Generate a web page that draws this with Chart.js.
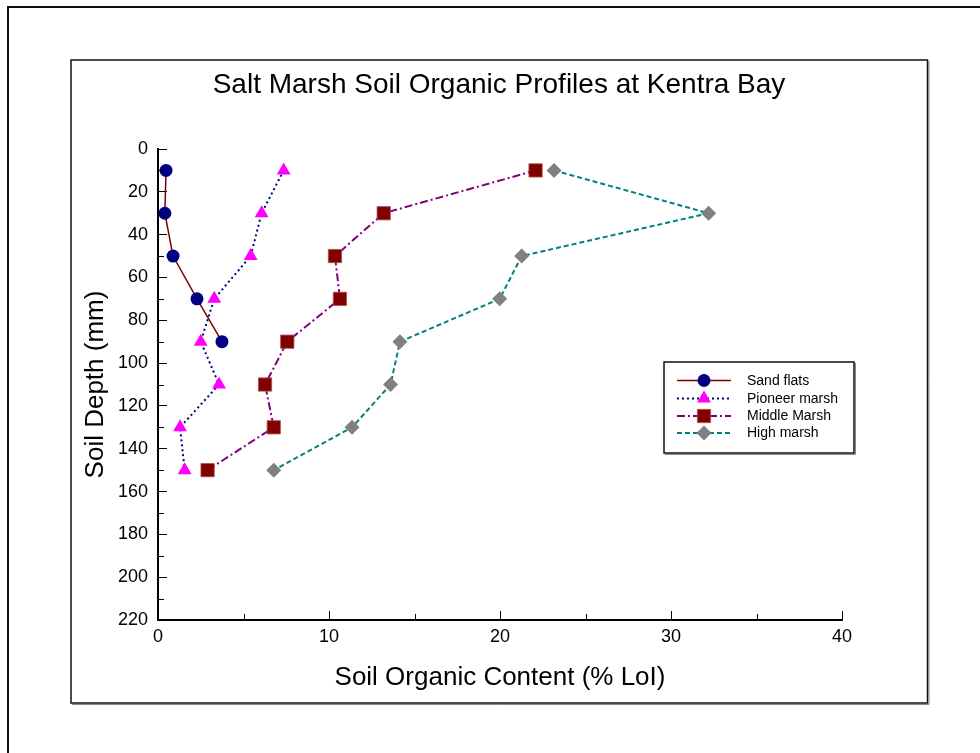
<!DOCTYPE html>
<html>
<head>
<meta charset="utf-8">
<title>Salt Marsh Soil Organic Profiles at Kentra Bay</title>
<script src="https://cdn.jsdelivr.net/npm/chart.js@4/dist/chart.umd.min.js"></script>
<style>
  html, body { margin: 0; padding: 0; background: #fff; }
  #wrap { width: 980px; height: 753px; }
</style>
</head>
<body>
<div id="wrap"><canvas id="chart" width="980" height="753"></canvas></div>
<script>
// Sampling depths (mm) and loss-on-ignition values (%) per site
const depths = [10, 30, 50, 70, 90, 110, 130, 150];
const sandFlats = [0.47, 0.40, 0.88, 2.28, 3.74];
const pioneerMarsh = [7.35, 6.06, 5.42, 3.29, 2.50, 3.57, 1.29, 1.56];
const middleMarsh = [22.08, 13.20, 10.35, 10.64, 7.56, 6.26, 6.77, 2.90];
const highMarsh = [23.16, 32.20, 21.27, 19.98, 14.15, 13.60, 11.35, 6.77];

const seriesNames = ['Sand flats', 'Pioneer marsh', 'Middle Marsh', 'High marsh'];
const depthTicksMajor = [0, 20, 40, 60, 80, 100, 120, 140, 160, 180, 200, 220];
const depthTicksMinor = [10, 30, 50, 70, 90, 110, 130, 150, 170, 190, 210];
const contentTicksMinor = [5, 15, 25, 35];

const FONT = "'Liberation Sans', Arial, Helvetica, sans-serif";

function toPoints(values) {
  return values.map((v, i) => ({ x: v, y: depths[i] }));
}

const datasets = [
  {
    label: seriesNames[0],
    data: toPoints(sandFlats),
    borderColor: '#800000',
    borderWidth: 1.5,
    pointStyle: 'circle',
    pointRadius: 6.5,
    pointBackgroundColor: '#000080',
    pointBorderColor: '#000080',
    pointBorderWidth: 0
  },
  {
    label: seriesNames[1],
    data: toPoints(pioneerMarsh),
    borderColor: '#000080',
    borderWidth: 2,
    borderDash: [2, 3],
    pointStyle: 'triangle',
    pointRadius: 8,
    pointBackgroundColor: '#ff00ff',
    pointBorderColor: '#ff00ff',
    pointBorderWidth: 0
  },
  {
    label: seriesNames[2],
    data: toPoints(middleMarsh),
    borderColor: '#800080',
    borderWidth: 2,
    borderDash: [8, 3, 2, 3],
    pointStyle: 'rect',
    pointRadius: 9.4,
    pointBackgroundColor: '#800000',
    pointBorderColor: '#b05050',
    pointBorderWidth: 0.8
  },
  {
    label: seriesNames[3],
    data: toPoints(highMarsh),
    borderColor: '#008080',
    borderWidth: 2,
    borderDash: [5, 3],
    pointStyle: 'rectRot',
    pointRadius: 7.5,
    pointBackgroundColor: '#808080',
    pointBorderColor: '#808080',
    pointBorderWidth: 0
  }
];

// Page frame, panel frame and white background
const framePlugin = {
  id: 'frames',
  beforeDraw(chart) {
    const ctx = chart.ctx;
    ctx.save();
    ctx.fillStyle = '#fff';
    ctx.fillRect(0, 0, chart.width, chart.height);
    // outer page frame (open to the right and bottom)
    ctx.strokeStyle = '#111';
    ctx.lineWidth = 2;
    ctx.beginPath();
    ctx.moveTo(8, chart.height + 5);
    ctx.lineTo(8, 7);
    ctx.lineTo(chart.width + 5, 7);
    ctx.stroke();
    // inner panel with a light shadow
    ctx.strokeStyle = '#888';
    ctx.lineWidth = 1;
    ctx.beginPath();
    ctx.moveTo(929, 61);
    ctx.lineTo(929, 704.5);
    ctx.lineTo(72, 704.5);
    ctx.stroke();
    ctx.strokeStyle = '#111';
    ctx.lineWidth = 1.5;
    ctx.strokeRect(71, 60, 856.5, 643);
    ctx.restore();
  }
};

// Short inward minor ticks between the labelled ones
const minorTickPlugin = {
  id: 'minorTicks',
  afterDraw(chart) {
    const ctx = chart.ctx;
    const xs = chart.scales.x, ys = chart.scales.y;
    ctx.save();
    ctx.strokeStyle = '#000';
    ctx.lineWidth = 1;
    ctx.beginPath();
    depthTicksMinor.forEach(v => {
      const py = Math.round(ys.getPixelForValue(v)) + 0.5;
      ctx.moveTo(chart.chartArea.left, py);
      ctx.lineTo(chart.chartArea.left + 6, py);
    });
    contentTicksMinor.forEach(v => {
      const px = Math.round(xs.getPixelForValue(v)) + 0.5;
      ctx.moveTo(px, chart.chartArea.bottom);
      ctx.lineTo(px, chart.chartArea.bottom - 6);
    });
    ctx.stroke();
    ctx.restore();
  }
};

// Boxed legend with line + marker samples
const boxLegendPlugin = {
  id: 'boxLegend',
  afterDraw(chart) {
    const ctx = chart.ctx;
    const box = { x: 664, y: 362, w: 190, h: 91 };
    const rowY = [380.5, 398.5, 416, 433];
    ctx.save();
    ctx.fillStyle = '#fff';
    ctx.fillRect(box.x, box.y, box.w, box.h);
    ctx.strokeStyle = '#888';
    ctx.lineWidth = 1;
    ctx.beginPath();
    ctx.moveTo(box.x + box.w + 1.5, box.y + 1);
    ctx.lineTo(box.x + box.w + 1.5, box.y + box.h + 1.5);
    ctx.lineTo(box.x + 1, box.y + box.h + 1.5);
    ctx.stroke();
    ctx.strokeStyle = '#111';
    ctx.lineWidth = 1.5;
    ctx.strokeRect(box.x, box.y, box.w, box.h);

    chart.data.datasets.forEach((ds, i) => {
      const y = rowY[i];
      ctx.save();
      ctx.strokeStyle = ds.borderColor;
      ctx.lineWidth = ds.borderWidth;
      ctx.setLineDash(ds.borderDash || []);
      ctx.beginPath();
      ctx.moveTo(677, y);
      ctx.lineTo(731, y);
      ctx.stroke();
      ctx.restore();
      ctx.save();
      ctx.fillStyle = ds.pointBackgroundColor;
      ctx.strokeStyle = ds.pointBorderColor;
      ctx.lineWidth = ds.pointBorderWidth;
      Chart.helpers.drawPoint(ctx, {
        pointStyle: ds.pointStyle,
        radius: ds.pointRadius,
        rotation: 0,
        borderWidth: ds.pointBorderWidth
      }, 704, y);
      ctx.restore();
      ctx.fillStyle = '#000';
      ctx.font = '14px ' + FONT;
      ctx.textAlign = 'left';
      ctx.textBaseline = 'middle';
      ctx.fillText(ds.label, 747, y + 0.5);
    });
    ctx.restore();
  }
};

function flatPadding(scale) {
  scale.paddingLeft = 0; scale.paddingRight = 0;
  scale.paddingTop = 0; scale.paddingBottom = 0;
}

const chart = new Chart(document.getElementById('chart'), {
  type: 'scatter',
  data: { datasets },
  options: {
    responsive: false,
    animation: false,
    showLine: true,
    layout: { padding: { top: 0, left: 18, right: 0, bottom: 0 } },
    elements: { line: { tension: 0, fill: false } },
    plugins: {
      legend: { display: false },
      tooltip: { enabled: false },
      title: {
        display: true,
        text: 'Salt Marsh Soil Organic Profiles at Kentra Bay',
        color: '#000',
        font: { family: FONT, size: 28, weight: 'normal' },
        padding: { top: 68.2, bottom: 47.2 }
      }
    },
    scales: {
      x: {
        type: 'linear',
        position: 'bottom',
        min: 0,
        max: 40,
        ticks: {
          stepSize: 10,
          color: '#000',
          font: { family: FONT, size: 18 },
          padding: 15,
          maxRotation: 0
        },
        grid: {
          drawOnChartArea: false,
          drawTicks: true,
          tickLength: -9,
          tickColor: '#000',
          tickWidth: 1
        },
        border: { display: true, color: '#000', width: 2 },
        title: {
          display: true,
          text: 'Soil Organic Content (% LoI)',
          color: '#000',
          font: { family: FONT, size: 26, weight: 'normal' },
          padding: { top: 0, bottom: 59.4 }
        },
        afterFit(scale) {
          scale.height = 133;
          flatPadding(scale);
        }
      },
      y: {
        type: 'linear',
        position: 'left',
        reverse: true,
        min: 0,
        max: 220,
        afterBuildTicks(scale) {
          scale.ticks = depthTicksMajor.map(v => ({ value: v }));
        },
        ticks: {
          color: '#000',
          font: { family: FONT, size: 18 },
          padding: 19
        },
        grid: {
          drawOnChartArea: false,
          drawTicks: true,
          tickLength: -9,
          tickColor: '#000',
          tickWidth: 1
        },
        border: { display: true, color: '#000', width: 2 },
        title: {
          display: true,
          text: 'Soil Depth (mm)',
          color: '#000',
          font: { family: FONT, size: 26, weight: 'normal' },
          padding: { top: 62.4, bottom: 0 }
        },
        afterFit(scale) {
          scale.width = 140;
          flatPadding(scale);
        }
      },
      // empty right-hand margin of the plot panel
      yMargin: {
        type: 'linear',
        position: 'right',
        display: true,
        ticks: { display: false },
        grid: { display: false, drawTicks: false },
        border: { display: false },
        afterFit(scale) {
          scale.width = 138;
          flatPadding(scale);
        }
      }
    }
  },
  plugins: [framePlugin, minorTickPlugin, boxLegendPlugin]
});
</script>
</body>
</html>
